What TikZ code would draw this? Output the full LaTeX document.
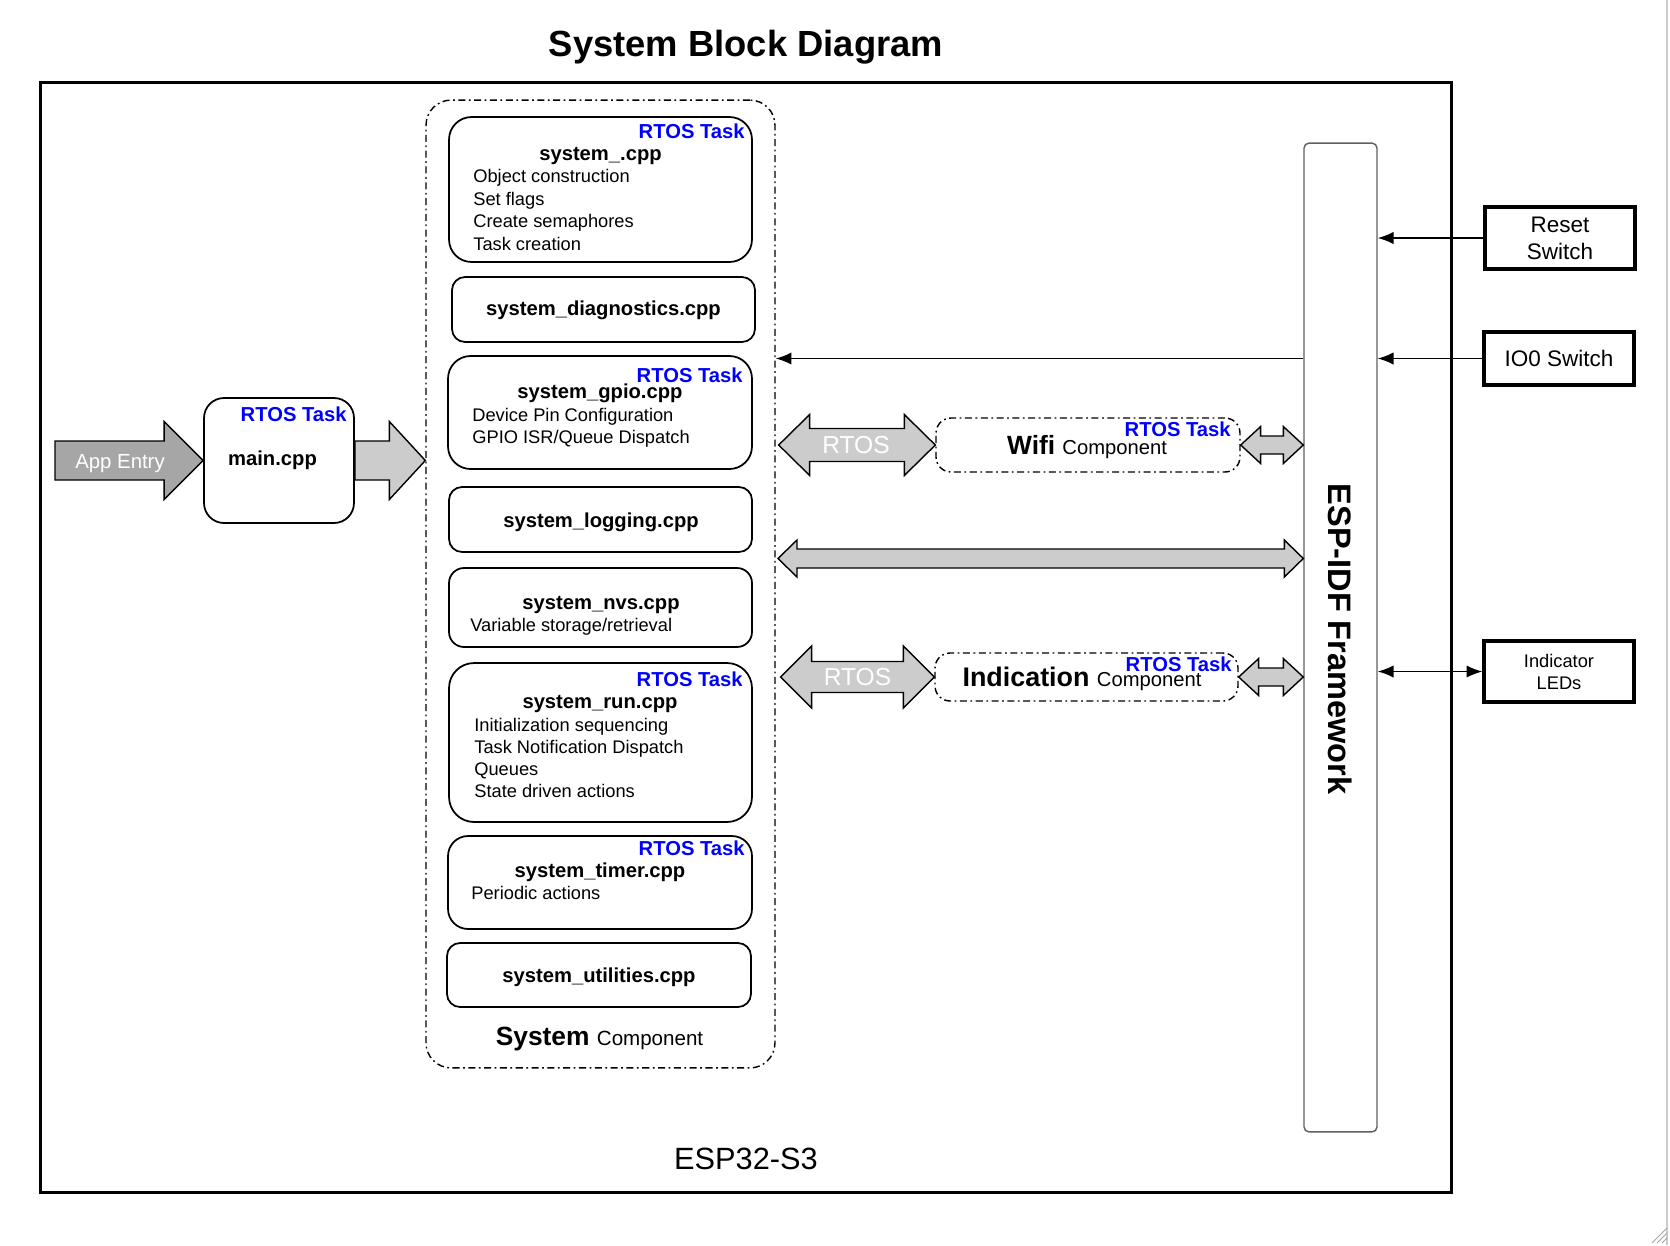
\documentclass[tikz,border=0pt]{standalone}
\usepackage{fontspec}
\setmainfont{Liberation Sans}
\usetikzlibrary{arrows.meta, calc}

\definecolor{rtosblue}{RGB}{0,0,255}
\definecolor{arrowfill}{RGB}{204,204,204}
\definecolor{entryfill}{RGB}{166,166,166}
\definecolor{framegray}{RGB}{96,96,96}

% block arrows: style, from, to, shaft half, head half, head length
\newcommand{\blockarrow}[6]{%
  \draw[#1] ($(#2)+(0,-#4)$) -- ($(#3)+(-#6,-#4)$) -- ($(#3)+(-#6,-#5)$) -- (#3)
    -- ($(#3)+(-#6,#5)$) -- ($(#3)+(-#6,#4)$) -- ($(#2)+(0,#4)$) -- cycle;}
\newcommand{\dblarrow}[6]{%
  \draw[#1] (#2) -- ($(#2)+(#6,-#5)$) -- ($(#2)+(#6,-#4)$) -- ($(#3)+(-#6,-#4)$)
    -- ($(#3)+(-#6,-#5)$) -- (#3) -- ($(#3)+(-#6,#5)$) -- ($(#3)+(-#6,#4)$)
    -- ($(#2)+(#6,#4)$) -- ($(#2)+(#6,#5)$) -- cycle;}

\begin{document}
\begin{tikzpicture}[
    x=0.02cm, y=-0.02cm,
    font=\fontsize{10.4}{12.5}\selectfont,
    chip/.style={
        draw=black,
        line width=1.7pt,
        inner sep=0
    },
    component/.style={
        draw=black,
        line width=0.8pt,
        dash pattern=on 4pt off 2pt on 1pt off 2pt,
        inner sep=0
    },
    file box/.style={
        draw=black,
        line width=1pt,
        inner sep=0,
        minimum width=6.06cm
    },
    file name/.style={font=\fontsize{11.5}{13}\selectfont\bfseries, anchor=base, inner sep=0},
    file line/.style={anchor=base west, inner sep=0},
    task label/.style={font=\fontsize{11.5}{13}\selectfont\bfseries, text=rtosblue, anchor=base east, inner sep=0},
    io box/.style={
        draw=black,
        line width=1.8pt,
        inner sep=0,
        minimum width=3cm,
        align=center,
        font=\fontsize{12.8}{15.3}\selectfont
    },
    fat arrow/.style={draw=black, line width=0.8pt, fill=arrowfill, line join=miter},
    arrow text/.style={text=white, anchor=base, inner sep=0},
    link/.style={line width=0.9pt, -{Latex[length=9pt, width=7pt]}}
]

    \path[fill=white] (0,0) rectangle (1670,1245);
    \useasboundingbox (0,0) rectangle (1670,1245);
    \draw[gray!40, line width=0.6pt] (1667,0) -- (1667,1245);
    \foreach \g in {0,5,10,15} {
        \draw[gray!70, line width=0.5pt] (1667-\g,1243) -- (1667,1243-\g);
    }

    \node[font=\fontsize{20.7}{24}\selectfont\bfseries, anchor=base, inner sep=0] (title) at (746,56) {System Block Diagram};

    % --- ESP32-S3 ---
    \node[chip, minimum width=28.23cm, minimum height=22.22cm] (chip) at (746.25,637.5) {};
    \node[font=\fontsize{17.5}{20}\selectfont, anchor=base, inner sep=0] (chiplabel) at (746,1169) {ESP32-S3};

    % --- System component ---
    \node[component, rounded corners=0.5cm, minimum width=6.98cm, minimum height=19.36cm] (sys) at (600.5,584) {};

    \node[file box, rounded corners=0.45cm, minimum height=2.9cm] (sysmain) at (600.5,189.5) {};
    \node[task label] (sysmaintask) at (745,138) {RTOS Task};
    \node[file name] (sysmainname) at (600.5,160) {system\_.cpp};
    \node[file line] (sysmaina) at (473,182.5) {Object construction};
    \node[file line] (sysmainb) at (473,205) {Set flags};
    \node[file line] (sysmainc) at (473,227.5) {Create semaphores};
    \node[file line] (sysmaind) at (473,250) {Task creation};

    \node[file box, rounded corners=0.26cm, minimum height=1.3cm] (sysdiag) at (603.5,309.5) {};
    \node[file name] (sysdiagname) at (603.5,315) {system\_diagnostics.cpp};

    \node[file box, rounded corners=0.45cm, minimum width=6.08cm, minimum height=2.26cm] (sysgpio) at (600,412.5) {};
    \node[task label] (sysgpiotask) at (743,382) {RTOS Task};
    \node[file name] (sysgpioname) at (600,398) {system\_gpio.cpp};
    \node[file line] (sysgpioa) at (472,421) {Device Pin Configuration};
    \node[file line] (sysgpiob) at (472,443) {GPIO ISR/Queue Dispatch};

    \node[file box, rounded corners=0.26cm, minimum height=1.3cm] (syslog) at (600.5,519.5) {};
    \node[file name] (syslogname) at (601,527) {system\_logging.cpp};

    \node[file box, rounded corners=0.3cm, minimum height=1.58cm] (sysnvs) at (600.5,607.5) {};
    \node[file name] (sysnvsname) at (601,609) {system\_nvs.cpp};
    \node[file line] (sysnvsa) at (470,631) {Variable storage/retrieval};

    \node[file box, rounded corners=0.5cm, minimum height=3.18cm] (sysrun) at (600.5,742.5) {};
    \node[task label] (sysruntask) at (743,686) {RTOS Task};
    \node[file name] (sysrunname) at (600,708) {system\_run.cpp};
    \node[file line] (sysruna) at (474,731) {Initialization sequencing};
    \node[file line] (sysrunb) at (474,753) {Task Notification Dispatch};
    \node[file line] (sysrunc) at (474,775) {Queues};
    \node[file line] (sysrund) at (474,797) {State driven actions};

    \node[file box, rounded corners=0.4cm, minimum width=6.08cm, minimum height=1.86cm] (systimer) at (600,882.5) {};
    \node[task label] (systimertask) at (745,855) {RTOS Task};
    \node[file name] (systimername) at (600,877) {system\_timer.cpp};
    \node[file line] (systimera) at (471,899) {Periodic actions};

    \node[file box, rounded corners=0.26cm, minimum width=6.08cm, minimum height=1.28cm] (sysutil) at (599,975) {};
    \node[file name] (sysutilname) at (599,982) {system\_utilities.cpp};

    \node[anchor=base, inner sep=0] (syslabel) at (599.5,1045)
        {{\fontsize{15}{18}\selectfont\bfseries System }{\fontsize{11.7}{14}\selectfont Component}};

    % --- main.cpp ---
    \node[file box, rounded corners=0.4cm, minimum width=3cm, minimum height=2.5cm] (main) at (279,460.5) {};
    \node[task label] (maintask) at (347,421) {RTOS Task};
    \node[file name] (mainname) at (272.5,465) {main.cpp};

    % --- ESP-IDF and switches ---
    \node[draw=framegray, line width=0.8pt, rounded corners=0.1cm, inner sep=0,
          minimum width=1.46cm, minimum height=19.78cm] (idf) at (1340.5,637.5) {};
    \node[font=\fontsize{18.5}{22}\selectfont\bfseries, rotate=-90, inner sep=0] (idflabel) at (1340.5,639) {ESP-IDF Framework};

    \node[io box, minimum height=1.24cm] (reset) at (1560,238) {Reset\\Switch};
    \node[io box, minimum height=1.06cm] (io0) at (1559,358.5) {IO0 Switch};
    \node[io box, minimum height=1.22cm, font=\fontsize{10.4}{12.5}\selectfont] (leds) at (1559,671.5) {Indicator\\LEDs};

    % --- Wifi / Indication components ---
    \node[component, rounded corners=0.3cm, minimum width=6.08cm, minimum height=1.08cm] (wifi) at (1088,445) {};
    \node[anchor=base, inner sep=0] (wifilabel) at (1087,454)
        {{\fontsize{15}{18}\selectfont\bfseries Wifi }{\fontsize{11.5}{14}\selectfont Component}};
    \node[task label] (wifitask) at (1231,436) {RTOS Task};

    \node[component, rounded corners=0.3cm, minimum width=6.06cm, minimum height=0.96cm] (indic) at (1086.5,677) {};
    \node[anchor=base, inner sep=0] (indiclabel) at (1082,686)
        {{\fontsize{15.3}{18}\selectfont\bfseries Indication }{\fontsize{11.5}{14}\selectfont Component}};
    \node[task label] (indictask) at (1232,671) {RTOS Task};

    % --- block arrows ---
    \coordinate (entry) at (55,460.5);
    \coordinate (systip) at (main.east -| sys.west);
    \coordinate (wifil) at ($(wifi.west -| sys.east)+(3,0)$);
    \coordinate (wifir) at (wifi.east -| idf.west);
    \coordinate (busl) at (778,558.5);
    \coordinate (busr) at (busl -| idf.west);
    \coordinate (indicl) at ($(indic.west -| sys.east)+(5,0)$);
    \coordinate (indicr) at (indic.east -| idf.west);

    \blockarrow{fat arrow, fill=entryfill}{entry}{main.west}{19.5}{39}{39}
    \node[arrow text, font=\fontsize{11.6}{14}\selectfont] (entrylabel) at (120,468) {App Entry};
    \blockarrow{fat arrow}{main.east}{systip}{19.5}{39}{36}

    \dblarrow{fat arrow}{wifil}{wifi.west}{16.5}{30.5}{31}
    \node[arrow text, font=\fontsize{14}{16}\selectfont] (wifirtos) at (856,453) {RTOS};
    \dblarrow{fat arrow}{wifi.east}{wifir}{9}{18.5}{20}

    \dblarrow{fat arrow}{busl}{busr}{9.5}{18.5}{19}

    \dblarrow{fat arrow}{indicl}{indic.west}{15.5}{31}{31}
    \node[arrow text, font=\fontsize{14}{16}\selectfont] (indicrtos) at (857.5,685) {RTOS};
    \dblarrow{fat arrow}{indic.east}{indicr}{9}{18.5}{20}

    % --- signal lines ---
    \draw[link] (reset.west) -- (reset.west -| idf.east);
    \draw[link] (io0.west) -- (io0.west -| idf.east);
    \draw[link, {Latex[length=9pt, width=7pt]}-{Latex[length=9pt, width=7pt]}] (leds.west) -- (leds.west -| idf.east);
    \draw[link] (idf.west |- io0.west) -- (sys.east |- io0.west);

\end{tikzpicture}
\end{document}
